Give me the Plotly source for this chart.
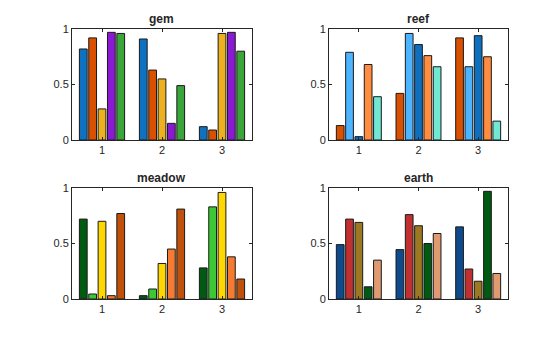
import plotly.graph_objects as go

groups = [1, 2, 3]

gem_colors = ["#0E72C0", "#D95000", "#EDB120", "#8A1AD2", "#3AA63A"]
gem_values = [
    [0.82, 0.91, 0.12],
    [0.92, 0.63, 0.09],
    [0.28, 0.55, 0.96],
    [0.97, 0.15, 0.97],
    [0.96, 0.49, 0.80],
]

reef_colors = ["#D95000", "#4DB5FF", "#0E6FBF", "#FF8C40", "#70E8D4"]
reef_values = [
    [0.13, 0.42, 0.92],
    [0.79, 0.96, 0.66],
    [0.03, 0.86, 0.94],
    [0.68, 0.76, 0.75],
    [0.39, 0.66, 0.17],
]

meadow_colors = ["#005A12", "#3CC832", "#FFD700", "#F47B30", "#C0500A"]
meadow_values = [
    [0.72, 0.03, 0.28],
    [0.045, 0.09, 0.83],
    [0.70, 0.32, 0.96],
    [0.03, 0.45, 0.38],
    [0.77, 0.81, 0.18],
]

earth_colors = ["#0F4A8C", "#C03030", "#9C7820", "#005A12", "#E09A70"]
earth_values = [
    [0.49, 0.445, 0.65],
    [0.72, 0.76, 0.27],
    [0.69, 0.66, 0.16],
    [0.11, 0.50, 0.97],
    [0.35, 0.59, 0.23],
]

panels = [
    ("gem", gem_colors, gem_values),
    ("reef", reef_colors, reef_values),
    ("meadow", meadow_colors, meadow_values),
    ("earth", earth_colors, earth_values),
]

W, H = 560, 337
xdoms = [(72 / W, 252 / W), (329 / W, 508 / W)]
ydoms = [(1 - 140 / H, 1 - 29 / H), (1 - 299 / H, 1 - 188 / H)]

fig = go.Figure()
font = "Liberation Sans, Arial, Helvetica, sans-serif"
layout = dict(
    width=W, height=H, autosize=False,
    margin=dict(l=0, r=0, t=0, b=0, pad=0, autoexpand=False),
    paper_bgcolor="white", plot_bgcolor="white",
    barmode="group", bargap=0.22, bargroupgap=0.17,
    showlegend=False,
    font=dict(family=font, size=11, color="#262626"),
)
annotations = []
for i, (title, colors, values) in enumerate(panels):
    r, c = divmod(i, 2)
    ax = "" if i == 0 else str(i + 1)
    for s in range(5):
        fig.add_trace(go.Bar(
            x=groups, y=values[s],
            marker=dict(color=colors[s], line=dict(color="#1a1a1a", width=1)),
            xaxis="x" + ax, yaxis="y" + ax, offsetgroup=str(s),
        ))
    layout["xaxis" + ax] = dict(
        domain=xdoms[c], anchor="y" + ax, range=[0.5, 3.5],
        tickvals=groups, ticktext=[str(g) for g in groups],
        ticks="inside", ticklen=3, tickcolor="#262626",
        showline=True, mirror="ticks", linecolor="#262626", linewidth=1,
        showgrid=False, zeroline=False, fixedrange=True, automargin=False,
        tickfont=dict(size=11, color="#262626"),
    )
    layout["yaxis" + ax] = dict(
        domain=ydoms[r], anchor="x" + ax, range=[0, 1],
        tickvals=[0, 0.5, 1], ticktext=["0", "0.5", "1"],
        ticks="inside", ticklen=3, tickcolor="#262626",
        showline=True, mirror="ticks", linecolor="#262626", linewidth=1,
        showgrid=False, zeroline=False, fixedrange=True, automargin=False,
        tickfont=dict(size=11, color="#262626"),
    )
    annotations.append(dict(
        text="<b>" + title + "</b>", showarrow=False,
        x=(xdoms[c][0] + xdoms[c][1]) / 2, y=ydoms[r][1],
        xref="paper", yref="paper", xanchor="center", yanchor="bottom",
        yshift=1, font=dict(size=12, color="#262626", family=font),
    ))
layout["annotations"] = annotations
fig.update_layout(**layout)
fig.write_html("out.html", config={"displayModeBar": False})
